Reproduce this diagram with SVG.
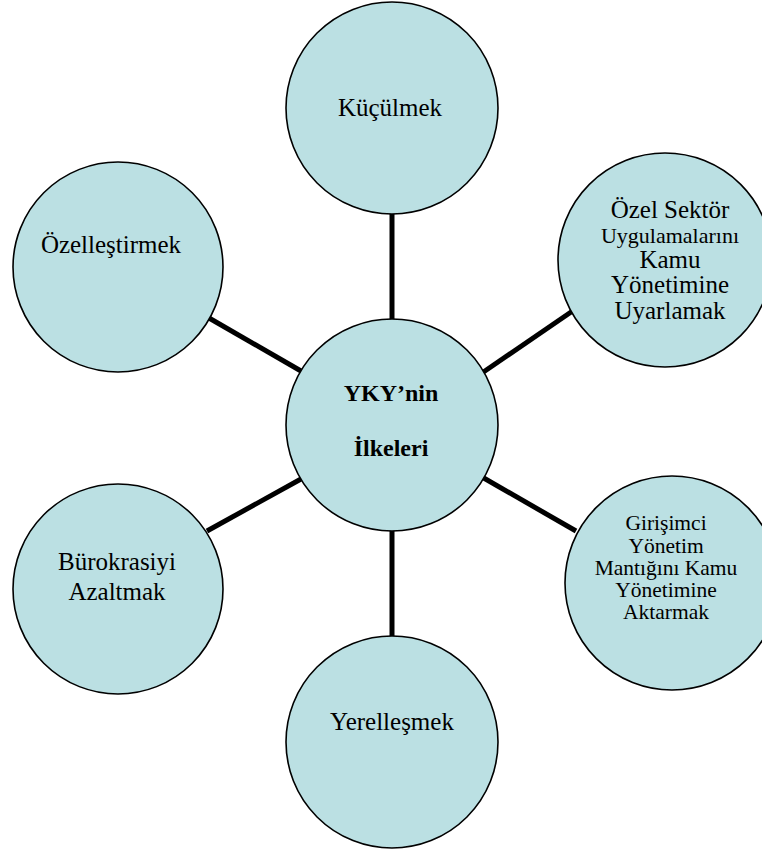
<svg xmlns="http://www.w3.org/2000/svg" width="762" height="853" viewBox="0 0 762 853">
<style>
.node circle{fill:#bbe0e3;stroke:#000;stroke-width:1.6}
text{font-family:'Liberation Serif','DejaVu Serif',serif;font-size:25px;fill:#000;text-anchor:middle}
.s{font-size:21.5px}
.b{font-weight:bold;font-size:24px}
#connectors line{stroke:#000;stroke-width:5}
</style>
<rect width="762" height="853" fill="#fff"/>
<g id="connectors">
<line x1="392" y1="212" x2="392" y2="321"/>
<line x1="209" y1="318" x2="301" y2="371"/>
<line x1="574" y1="310" x2="482" y2="373"/>
<line x1="207" y1="531" x2="301" y2="479"/>
<line x1="482" y1="477" x2="576" y2="531"/>
<line x1="392" y1="529" x2="392" y2="636"/>
</g>
<g id="kucülmek" class="node">
<circle cx="392" cy="108" r="106"/>
<text x="390" y="116">Küçülmek</text>
</g>
<g id="ozellestirmek" class="node">
<circle cx="118" cy="267" r="105"/>
<text x="111" y="253">Özelleştirmek</text>
</g>
<g id="ozel-sektor" class="node">
<circle cx="665" cy="260" r="107"/>
<text x="670" y="218">Özel Sektör</text>
<text x="670" y="243" style="font-size:22px">Uygulamalarını</text>
<text x="670" y="268">Kamu</text>
<text x="670" y="293">Yönetimine</text>
<text x="670" y="319">Uyarlamak</text>
</g>
<g id="merkez" class="node">
<circle cx="392" cy="425" r="106"/>
<text class="b" x="391" y="401">YKY’nin</text>
<text class="b" x="391" y="456">İlkeleri</text>
</g>
<g id="burokrasi" class="node">
<circle cx="118" cy="589" r="105"/>
<text x="117" y="570">Bürokrasiyi</text>
<text x="117" y="600">Azaltmak</text>
</g>
<g id="girisimci" class="node">
<circle cx="672" cy="583" r="107"/>
<text class="s" x="666" y="530">Girişimci</text>
<text class="s" x="666" y="553">Yönetim</text>
<text class="s" x="666" y="575">Mantığını Kamu</text>
<text class="s" x="666" y="597">Yönetimine</text>
<text class="s" x="666" y="619">Aktarmak</text>
</g>
<g id="yerellesmek" class="node">
<circle cx="392" cy="742" r="106"/>
<text x="392" y="730">Yerelleşmek</text>
</g>
</svg>
